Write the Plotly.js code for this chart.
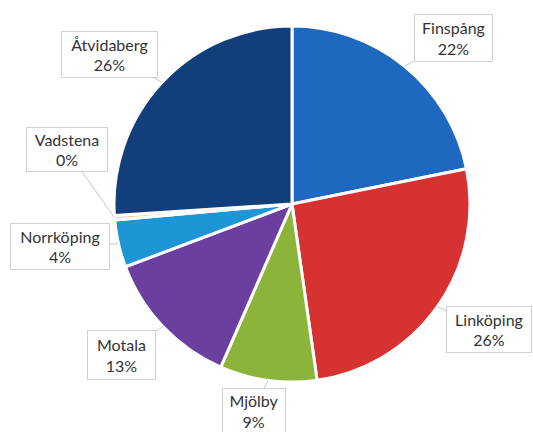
<!DOCTYPE html>
<html>
<head>
<meta charset="utf-8">
<script src="https://cdn.plot.ly/plotly-3.0.1.min.js"></script>
<style>html,body{margin:0;padding:0;background:#fff}#chart{width:533px;height:432px}</style>
</head>
<body>
<div id="chart"></div>
<script>
// Data
const labels = ["Finspång", "Linköping", "Mjölby", "Motala", "Norrköping", "Vadstena", "Åtvidaberg"];
const values = [21.8, 25.9, 8.8, 12.7, 4.3, 0.4, 26.0];
const colors = ["#1f68c1", "#d63232", "#8cb43a", "#6b3fa0", "#1e96d6", "#e8d8a0", "#123e7c"];

// Label box styling (pixel offsets from slice edge, box sizes)
const offsets = {
  "Finspång":   [49, -28, 77, 46],
  "Linköping":  [52, 23, 84, 45],
  "Mjölby":     [-14, 31, 62, 44],
  "Motala":     [-41, 28, 67, 48],
  "Norrköping": [-58, 3, 98, 45],
  "Vadstena":   [-48, -68, 80, 43],
  "Åtvidaberg": [-53, -28, 95, 45]
};

const W = 533, H = 432;
const domX = [0.2139, 0.8818], domY = [0.1157, 0.9398];
const cx = (domX[0] + domX[1]) / 2 * W;
const cyFromBottom = (domY[0] + domY[1]) / 2 * H;
const R = Math.min((domX[1] - domX[0]) * W, (domY[1] - domY[0]) * H) / 2;

const total = values.reduce((a, b) => a + b, 0);
let cum = 0;
const annotations = labels.map((lab, i) => {
  const mid = (cum + values[i] / 2) / total;
  cum += values[i];
  const ang = mid * 2 * Math.PI; // clockwise from 12 o'clock
  const px = cx + R * Math.sin(ang);
  const pyB = cyFromBottom + R * Math.cos(ang);
  const o = offsets[lab];
  const pct = Math.round(values[i] / total * 100);
  return {
    x: px / W, y: pyB / H, xref: "paper", yref: "paper",
    text: lab + "<br>" + pct + "%",
    showarrow: true, arrowhead: 0, arrowwidth: 1, arrowcolor: "#c8c8c8",
    ax: o[0], ay: o[1],
    width: o[2], height: o[3],
    bgcolor: "#ffffff", bordercolor: "#d0d0d0", borderwidth: 1, borderpad: 0,
    font: {family: "Lato, sans-serif", size: 16, color: "#333333"},
    align: "center"
  };
});

const trace = {
  type: "pie",
  labels: labels,
  values: values,
  sort: false,
  direction: "clockwise",
  rotation: 0,
  textinfo: "none",
  hoverinfo: "label+percent",
  marker: {colors: colors, line: {color: "#ffffff", width: 3}},
  domain: {x: domX, y: domY}
};

const layout = {
  width: W, height: H,
  margin: {l: 0, r: 0, t: 0, b: 0},
  showlegend: false,
  paper_bgcolor: "#ffffff",
  font: {family: "Lato, sans-serif"},
  annotations: annotations
};

Plotly.newPlot("chart", [trace], layout, {displayModeBar: false, staticPlot: true});
</script>
</body>
</html>
